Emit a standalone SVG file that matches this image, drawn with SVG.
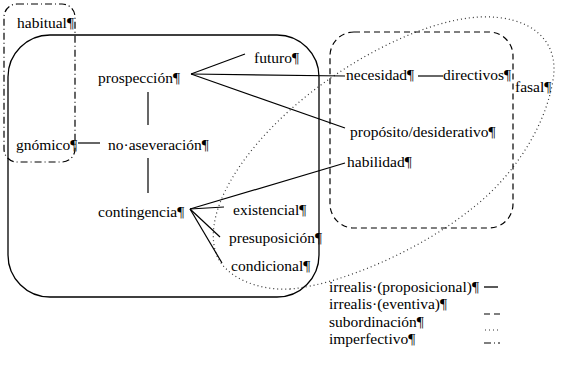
<svg xmlns="http://www.w3.org/2000/svg" width="581" height="367" viewBox="0 0 581 367">
<style>
.ln{stroke:#000;stroke-width:1.2;fill:none}
.solid{stroke:#000;stroke-width:1.3;fill:none}
.dash{stroke:#000;stroke-width:1.2;fill:none;stroke-dasharray:6 4}
.dot{stroke:#333;stroke-width:1.2;fill:none;stroke-dasharray:1 3}
.dashdot{stroke:#000;stroke-width:1.2;fill:none;stroke-dasharray:7 3 1 3}
</style>
<rect width="581" height="367" fill="#fff"/>
<g id="regions">
<rect id="irrealis-proposicional" class="solid" x="8" y="35" width="311" height="262" rx="42"/>
<rect id="imperfectivo-area" class="dashdot" x="4" y="4" width="71" height="158" rx="13"/>
<rect id="irrealis-eventiva" class="dash" x="330" y="32" width="183" height="196" rx="24"/>
<path id="subordinacion" class="dot" d="M290 289 C340 285 420 250 470 210 C510 180 545 130 553 80 C560 40 530 15 480 17 C420 20 340 65 290 110 C240 155 205 210 215 250 C222 278 260 291 290 289 Z"/>
</g>
<g id="connectors">
<line class="ln" x1="148" y1="92" x2="148" y2="125"/>
<line class="ln" x1="148" y1="158" x2="148" y2="193"/>
<line class="ln" x1="78" y1="143" x2="100" y2="143"/>
<line class="ln" x1="191" y1="74" x2="245" y2="54"/>
<line class="ln" x1="191" y1="74" x2="345" y2="76"/>
<line class="ln" x1="191" y1="74" x2="345" y2="128"/>
<line class="ln" x1="418" y1="76" x2="443" y2="76"/>
<line class="ln" x1="190" y1="209" x2="345" y2="163"/>
<line class="ln" x1="190" y1="209" x2="224" y2="207"/>
<line class="ln" x1="190" y1="209" x2="220" y2="237"/>
<line class="ln" x1="190" y1="209" x2="222" y2="263"/>
</g>
<g font-family="Liberation Serif, Times New Roman, serif" font-size="15.5" fill="#000">
<g id="n-habitual"><text x="17" y="28">habitual¶</text></g>
<g id="n-prospeccion"><text x="98" y="83">prospección¶</text></g>
<g id="n-futuro"><text x="254" y="63">futuro¶</text></g>
<g id="n-necesidad"><text x="346" y="80">necesidad¶</text></g>
<g id="n-directivos"><text x="443" y="80">directivos¶</text></g>
<g id="n-fasal"><text x="515" y="92">fasal¶</text></g>
<g id="n-proposito"><text x="350" y="137">propósito/desiderativo¶</text></g>
<g id="n-habilidad"><text x="347" y="167">habilidad¶</text></g>
<g id="n-gnomico"><text x="16" y="150">gnómico¶</text></g>
<g id="n-noaseveracion"><text x="108" y="150">no·aseveración¶</text></g>
<g id="n-contingencia"><text x="98" y="217">contingencia¶</text></g>
<g id="n-existencial"><text x="233" y="215">existencial¶</text></g>
<g id="n-presuposicion"><text x="229" y="243">presuposición¶</text></g>
<g id="n-condicional"><text x="231" y="271">condicional¶</text></g>
<g id="legend">
<text x="329" y="292">irrealis·(proposicional)¶</text>
<text x="329" y="309">irrealis·(eventiva)¶</text>
<text x="329" y="327">subordinación¶</text>
<text x="329" y="344">imperfectivo¶</text>
</g>
</g>
<g id="legend-lines">
<line class="solid" x1="484" y1="287" x2="498" y2="287"/>
<line class="dash" x1="484" y1="314" x2="500" y2="314"/>
<line class="dot" x1="485" y1="330" x2="499" y2="330"/>
<line class="dashdot" x1="484" y1="343" x2="500" y2="343"/>
</g>
</svg>
